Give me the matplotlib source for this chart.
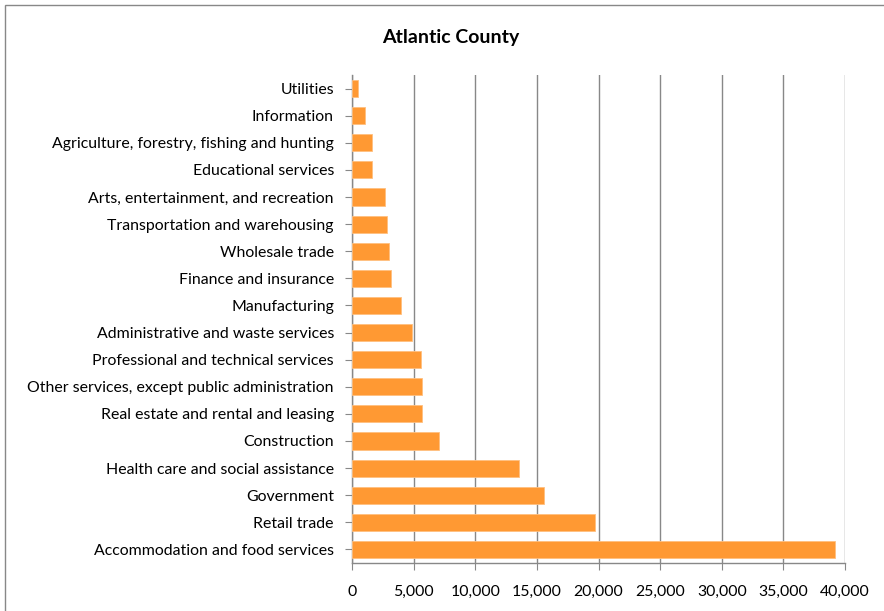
import matplotlib
matplotlib.use("Agg")
import matplotlib.pyplot as plt
from matplotlib.patches import Rectangle
from matplotlib.ticker import FuncFormatter

categories = [
    "Accommodation and food services",
    "Retail trade",
    "Government",
    "Health care and social assistance",
    "Construction",
    "Real estate and rental and leasing",
    "Other services, except public administration",
    "Professional and technical services",
    "Administrative and waste services",
    "Manufacturing",
    "Finance and insurance",
    "Wholesale trade",
    "Transportation and warehousing",
    "Arts, entertainment, and recreation",
    "Educational services",
    "Agriculture, forestry, fishing and hunting",
    "Information",
    "Utilities",
]
values = [39190, 19700, 15610, 13550, 7070, 5690, 5690, 5560, 4880,
          3960, 3150, 3040, 2820, 2680, 1650, 1650, 1090, 490]
x_ticks = [0, 5000, 10000, 15000, 20000, 25000, 30000, 35000, 40000]

plt.rcParams['font.family'] = ['Lato', 'DejaVu Sans']

fig = plt.figure(figsize=(8.84, 6.11), dpi=100)
ax = fig.add_axes([352/884, 1-563/611, (845-352)/884, (563-75)/611])

ypos = list(range(len(categories)))
ax.barh(ypos, values, height=0.63, color="#FF9933", edgecolor="#FFC080", linewidth=0.6, zorder=3)
ax.set_yticks(ypos)
ax.set_yticklabels(categories, fontsize=11.4)
ax.set_ylim(-0.5, len(categories) - 0.5)
ax.set_xlim(0, 40000)
ax.set_xticks(x_ticks)
ax.xaxis.set_major_formatter(FuncFormatter(lambda v, p: f"{int(v):,}"))
ax.tick_params(axis='x', labelsize=11.4, length=5, color="#888888", pad=11)
ax.tick_params(axis='y', length=5, color="#888888", pad=8)
ax.grid(axis='x', color="#888888", linewidth=1.0, zorder=0)
for s in ['top', 'right']:
    ax.spines[s].set_visible(False)
for s in ['left', 'bottom']:
    ax.spines[s].set_color("#888888")
    ax.spines[s].set_linewidth(1.0)

fig.text(451/884, 1-37/611, "Atlantic County", ha='center', va='center',
         fontsize=14, fontweight='bold')

fig.patches.append(Rectangle((5/884, -0.01), 1.0, 1-5/611 + 0.01, transform=fig.transFigure,
                             fill=False, edgecolor="#888888", linewidth=1.0))

fig.savefig("out.png", dpi=100)
